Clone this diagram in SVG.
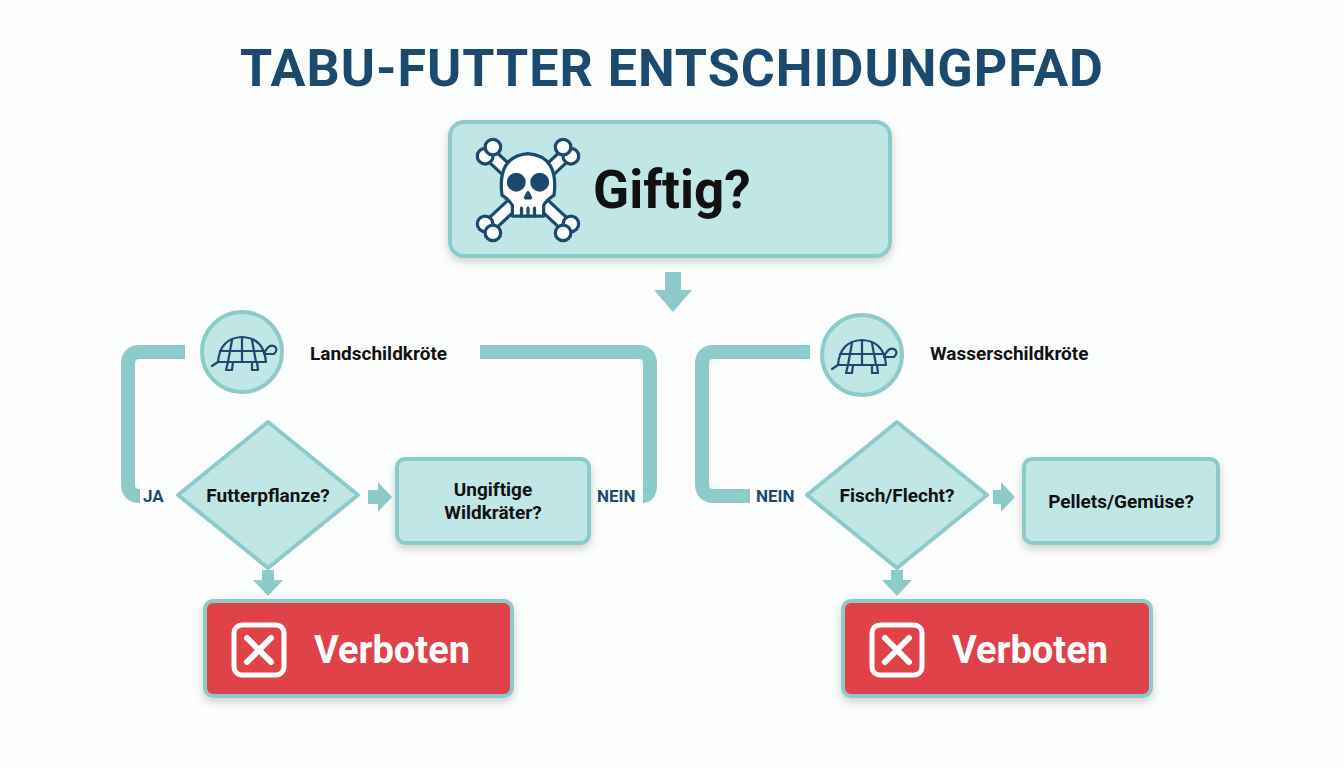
<svg xmlns="http://www.w3.org/2000/svg" width="1344" height="768" viewBox="0 0 1344 768">
<defs>
<style>
text{font-family:Roboto,"Liberation Sans",sans-serif;font-weight:bold}
.n{fill:#c0e6e6;stroke:#8dcaca;stroke-width:4}
.r{fill:#e0434a;stroke:#8dcaca;stroke-width:4}
.c{fill:none;stroke:#8dcaca;stroke-width:14;stroke-linejoin:round}
.a{fill:#8dcaca}
.lbl{fill:#1b4a6e;font-size:17px}
.t{fill:#111;font-size:19px}
.ic{fill:none;stroke:#1b4a6e;stroke-width:2.2;stroke-linejoin:round;stroke-linecap:round}
</style>
<filter id="sh" x="-10%" y="-10%" width="120%" height="130%"><feDropShadow dx="0" dy="4" stdDeviation="4" flood-opacity="0.18"/></filter>
<g id="turtle">
<path class="ic" d="M-24 8 Q-22 -16 0 -17 Q22 -16 24 8 Z"/>
<path class="ic" d="M-14 8 L-10 -14 M14 8 L10 -14 M0 -17 L0 8 M-22 -3 L22 -3"/>
<path class="ic" d="M22 0 Q26 -10 32 -8 Q37 -5 32 0 Z M-24 8 L-30 12 M-14 8 L-16 16 L-10 16 L-9 8 M10 8 L10 16 L16 16 L15 8"/>
</g>
<g id="xicon">
<rect x="-25" y="-25" width="50" height="50" rx="8" fill="none" stroke="#fff" stroke-width="5"/>
<path d="M-12 -12 L12 12 M12 -12 L-12 12" stroke="#fff" stroke-width="6" stroke-linecap="round"/>
</g>
</defs>
<rect width="1344" height="768" fill="#fcfdfd"/>
<text x="672" y="86" text-anchor="middle" font-size="52" fill="#1b4a6e" letter-spacing="1">TABU-FUTTER ENTSCHIDUNGPFAD</text>

<g id="connectors">
<path class="c" d="M185 352 H140 Q128 352 128 364 V484 Q128 496 140 496"/>
<path class="c" d="M480 352 H638 Q650 352 650 364 V484 Q650 496 643 496"/>
<path class="c" d="M810 352 H714 Q702 352 702 364 V484 Q702 496 714 496 H750"/>
<path class="a" d="M665 272 h16 v18 h11 l-19 22 l-19 -22 h11 z"/>
<path class="a" d="M368 490 h10 v-8 l14 15 l-14 15 v-8 h-10 z"/>
<path class="a" d="M993 490 h8 v-8 l14 15 l-14 15 v-8 h-8 z"/>
<path class="a" d="M262 570 h12 v10 h9 l-15 16 l-15 -16 h9 z"/>
<path class="a" d="M891 570 h12 v10 h9 l-15 16 l-15 -16 h9 z"/>
<text class="lbl" x="143" y="502">JA</text>
<text class="lbl" x="597" y="502">NEIN</text>
<text class="lbl" x="756" y="502">NEIN</text>
</g>

<g id="giftig">
<rect class="n" x="450" y="122" width="440" height="134" rx="14" filter="url(#sh)"/>
<g transform="translate(528,190) scale(1.3)" class="ic" style="stroke-width:2.5;fill:#fff">
<path d="M-30 -28 L30 28 M30 -28 L-30 28" stroke="#1b4a6e" stroke-width="12"/>
<path d="M-30 -28 L30 28 M30 -28 L-30 28" stroke="#fff" stroke-width="7"/>
<circle cx="-33" cy="-26" r="6"/><circle cx="-27" cy="-33" r="6"/>
<circle cx="33" cy="-26" r="6"/><circle cx="27" cy="-33" r="6"/>
<circle cx="-33" cy="26" r="6"/><circle cx="-27" cy="33" r="6"/>
<circle cx="33" cy="26" r="6"/><circle cx="27" cy="33" r="6"/>
<path d="M-20 4 Q-24 -26 0 -28 Q24 -26 20 4 Q14 8 12 12 L12 20 H-12 L-12 12 Q-14 8 -20 4 Z"/>
<circle cx="-9" cy="-6" r="6" fill="#1b4a6e"/><circle cx="9" cy="-6" r="6" fill="#1b4a6e"/>
<path d="M-2 6 L0 2 L2 6 Z M-5 14 V20 M0 14 V20 M5 14 V20" fill="#1b4a6e"/>
</g>
<text x="593" y="208" font-size="53" fill="#111">Giftig?</text>
</g>

<g id="land">
<circle class="n" cx="242" cy="352" r="40"/>
<use href="#turtle" transform="translate(242,354)"/>
<text class="t" x="310" y="360">Landschildkröte</text>
</g>
<g id="futter">
<path class="n" d="M268 422 L358 495 L268 568 L178 495 Z" stroke-linejoin="round"/>
<text class="t" x="268" y="502" text-anchor="middle">Futterpflanze?</text>
</g>
<g id="wild">
<rect class="n" x="397" y="459" width="192" height="84" rx="8" filter="url(#sh)"/>
<text class="t" x="493" y="496" text-anchor="middle">Ungiftige</text>
<text class="t" x="493" y="519" text-anchor="middle">Wildkräter?</text>
</g>
<g id="verboten1">
<rect class="r" x="205" y="601" width="307" height="95" rx="8" filter="url(#sh)"/>
<use href="#xicon" transform="translate(259,650)"/>
<text x="314" y="663" font-size="38" fill="#fff">Verboten</text>
</g>

<g id="wasser">
<circle class="n" cx="862" cy="355" r="40"/>
<use href="#turtle" transform="translate(862,357)"/>
<text class="t" x="930" y="360">Wasserschildkröte</text>
</g>
<g id="fisch">
<path class="n" d="M897 422 L987 495 L897 568 L807 495 Z" stroke-linejoin="round"/>
<text class="t" x="897" y="502" text-anchor="middle">Fisch/Flecht?</text>
</g>
<g id="pellets">
<rect class="n" x="1024" y="459" width="194" height="84" rx="8" filter="url(#sh)"/>
<text class="t" x="1121" y="508" text-anchor="middle">Pellets/Gemüse?</text>
</g>
<g id="verboten2">
<rect class="r" x="843" y="601" width="308" height="95" rx="8" filter="url(#sh)"/>
<use href="#xicon" transform="translate(897,650)"/>
<text x="952" y="663" font-size="38" fill="#fff">Verboten</text>
</g>
</svg>
